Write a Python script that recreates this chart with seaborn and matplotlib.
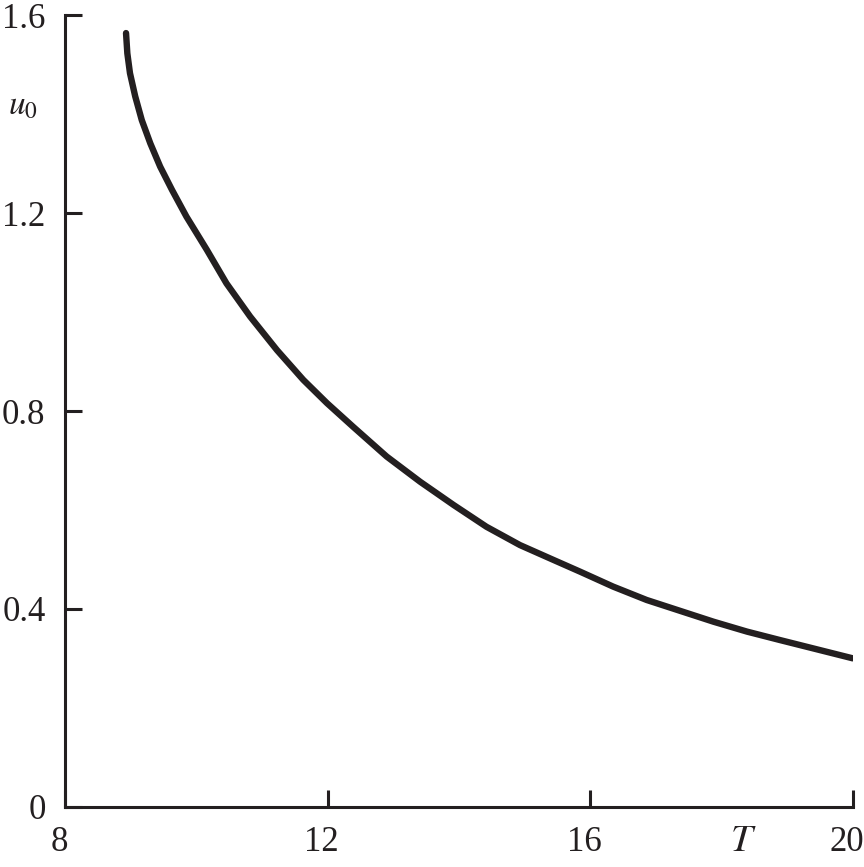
import matplotlib
matplotlib.use('Agg')
import pandas as pd
import matplotlib.pyplot as plt
import matplotlib.transforms as mtransforms
import seaborn as sns

# curve values
T = [8.93, 8.95, 8.99, 9.07, 9.17, 9.30, 9.45, 9.63, 9.85, 10.16, 10.46,
     10.82, 11.23, 11.63, 11.99, 12.39, 12.90, 13.41, 13.92, 14.42, 14.93,
     15.44, 15.85, 16.35, 16.86, 17.37, 17.88, 18.39, 18.89, 19.40, 20.0]
u0 = [1.564, 1.523, 1.483, 1.436, 1.388, 1.341, 1.294, 1.247, 1.193, 1.126,
      1.058, 0.991, 0.923, 0.863, 0.816, 0.768, 0.708, 0.657, 0.610, 0.566,
      0.529, 0.499, 0.475, 0.445, 0.418, 0.396, 0.374, 0.354, 0.337, 0.320,
      0.300]

x_ticks = [8, 12, 16, 20]
y_ticks = [0, 0.4, 0.8, 1.2, 1.6]
y_tick_labels = ['0', '0.4', '0.8', '1.2', '1.6']

df = pd.DataFrame({'T': T, 'u0': u0})

sns.set_style('ticks')
plt.rcParams['font.family'] = ['Liberation Serif', 'DejaVu Serif']
plt.rcParams['mathtext.fontset'] = 'stix'

ink = '#231f20'
fig = plt.figure(figsize=(8.64, 8.67), dpi=100)
ax = fig.add_axes([0.0752, 0.0695, 0.9118, 0.9129])

sns.lineplot(data=df, x='T', y='u0', color=ink, linewidth=4.6, ax=ax,
             solid_capstyle='round', solid_joinstyle='round')

ax.set_xlim(8, 20)
ax.set_ylim(0, 1.6)
ax.set_xticks(x_ticks)
ax.set_yticks(y_ticks)
ax.set_yticklabels(y_tick_labels)
ax.tick_params(direction='in', length=12, width=2.2, color=ink,
               labelsize=25, labelcolor=ink, pad=14)
ax.set_xlabel('')
ax.set_ylabel('')
for side in ['top', 'right']:
    ax.spines[side].set_visible(False)
for side in ['left', 'bottom']:
    ax.spines[side].set_linewidth(2.2)
    ax.spines[side].set_color(ink)

# x tick labels sit a little left of their ticks in the original
shift = mtransforms.ScaledTranslation(-6 / 100, 0, fig.dpi_scale_trans)
for lbl in ax.get_xticklabels():
    lbl.set_transform(lbl.get_transform() + shift)

# axis names placed like in the original
ax.text(-0.054, 0.885, r'$u_0$', transform=ax.transAxes, fontsize=24,
        color=ink, ha='center', va='center')
ax.text(18.34, -0.07, r'$T$', transform=ax.transData, fontsize=28,
        color=ink, ha='center', va='center', clip_on=False)

fig.savefig('out.png', dpi=100)
